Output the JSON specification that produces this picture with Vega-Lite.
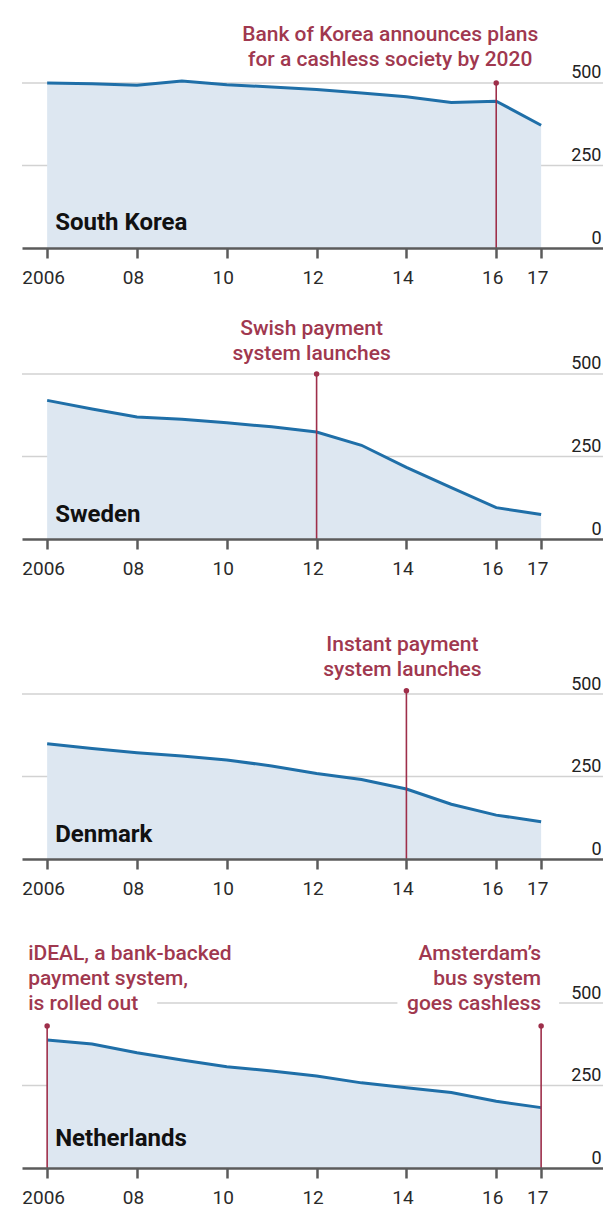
{
  "$schema": "https://vega.github.io/schema/vega-lite/v6.json",
  "padding": {"left": 21, "top": 0, "right": 0, "bottom": 0},
  "background": "white",
  "bounds": "flush",
  "spacing": 0,
  "config": {"view": {"stroke": null}, "font": "Roboto"},
  "resolve": {"scale": {"y": "independent"}},
  "datasets": {
    "cash": [
      {"country": "South Korea", "year": 2006, "value": 500},
      {"country": "South Korea", "year": 2007, "value": 498},
      {"country": "South Korea", "year": 2008, "value": 493},
      {"country": "South Korea", "year": 2009, "value": 506},
      {"country": "South Korea", "year": 2010, "value": 495},
      {"country": "South Korea", "year": 2011, "value": 488},
      {"country": "South Korea", "year": 2012, "value": 480},
      {"country": "South Korea", "year": 2013, "value": 470},
      {"country": "South Korea", "year": 2014, "value": 458},
      {"country": "South Korea", "year": 2015, "value": 441},
      {"country": "South Korea", "year": 2016, "value": 445},
      {"country": "South Korea", "year": 2017, "value": 372},
      {"country": "Sweden", "year": 2006, "value": 420},
      {"country": "Sweden", "year": 2007, "value": 394},
      {"country": "Sweden", "year": 2008, "value": 370},
      {"country": "Sweden", "year": 2009, "value": 363},
      {"country": "Sweden", "year": 2010, "value": 352},
      {"country": "Sweden", "year": 2011, "value": 340},
      {"country": "Sweden", "year": 2012, "value": 324},
      {"country": "Sweden", "year": 2013, "value": 284},
      {"country": "Sweden", "year": 2014, "value": 217},
      {"country": "Sweden", "year": 2015, "value": 156},
      {"country": "Sweden", "year": 2016, "value": 95},
      {"country": "Sweden", "year": 2017, "value": 74},
      {"country": "Denmark", "year": 2006, "value": 349},
      {"country": "Denmark", "year": 2007, "value": 335},
      {"country": "Denmark", "year": 2008, "value": 322},
      {"country": "Denmark", "year": 2009, "value": 312},
      {"country": "Denmark", "year": 2010, "value": 300},
      {"country": "Denmark", "year": 2011, "value": 282},
      {"country": "Denmark", "year": 2012, "value": 259},
      {"country": "Denmark", "year": 2013, "value": 241},
      {"country": "Denmark", "year": 2014, "value": 212},
      {"country": "Denmark", "year": 2015, "value": 166},
      {"country": "Denmark", "year": 2016, "value": 133},
      {"country": "Denmark", "year": 2017, "value": 113},
      {"country": "Netherlands", "year": 2006, "value": 388},
      {"country": "Netherlands", "year": 2007, "value": 376},
      {"country": "Netherlands", "year": 2008, "value": 349},
      {"country": "Netherlands", "year": 2009, "value": 327},
      {"country": "Netherlands", "year": 2010, "value": 307},
      {"country": "Netherlands", "year": 2011, "value": 294},
      {"country": "Netherlands", "year": 2012, "value": 279},
      {"country": "Netherlands", "year": 2013, "value": 258},
      {"country": "Netherlands", "year": 2014, "value": 243},
      {"country": "Netherlands", "year": 2015, "value": 229},
      {"country": "Netherlands", "year": 2016, "value": 202},
      {"country": "Netherlands", "year": 2017, "value": 183}
    ],
    "events": [
      {"country": "South Korea", "year": 2016, "top": 500, "text": "Bank of Korea announces plans\nfor a cashless society by 2020"},
      {"country": "Sweden", "year": 2012, "top": 500, "text": "Swish payment\nsystem launches"},
      {"country": "Denmark", "year": 2014, "top": 510, "text": "Instant payment\nsystem launches"},
      {"country": "Netherlands", "year": 2006, "top": 430, "text": "iDEAL, a bank-backed\npayment system,\nis rolled out"},
      {"country": "Netherlands", "year": 2017, "top": 430, "text": "Amsterdam’s\nbus system\ngoes cashless"}
    ]
  },
  "vconcat": [
    {
      "width": 582, "height": 248,
      "layer": [
        {"data": {"values": [{"g": 250}, {"g": 500}]},
         "mark": {"type": "rule", "color": "#d2d2d2", "strokeWidth": 1.5},
         "encoding": {"y": {"field": "g", "type": "quantitative", "title": null,
           "scale": {"domain": [0, 751.5], "nice": false, "zero": false},
           "axis": {"orient": "right", "values": [0, 250, 500], "grid": false, "domain": false, "ticks": false, "tickSize": 0, "labelAlign": "right", "labelBaseline": "alphabetic", "labelPadding": -3, "labelOffset": -5, "labelFontSize": 18, "labelColor": "#222222", "labelFlush": false, "zindex": 1}}}},
        {"data": {"name": "cash"}, "transform": [{"filter": "datum.country === 'South Korea'"}],
         "mark": {"type": "area", "color": "#dde7f1"},
         "encoding": {"x": {"field": "year", "type": "quantitative", "title": null,
           "scale": {"domain": [2005.44, 2018.4], "nice": false, "zero": false},
           "axis": {"values": [2006, 2008, 2010, 2012, 2014, 2016, 2017], "labelExpr": "datum.value == 2006 ? '2006' : slice(toString(datum.value), 2)", "grid": false, "domainColor": "#5b5b5b", "domainWidth": 2.5, "tickColor": "#5b5b5b", "tickWidth": 2.5, "tickSize": 10, "labelPadding": 10, "labelFontSize": 19, "labelColor": "#2a2a2a", "labelOffset": -4, "labelBaseline": "top", "labelFlush": false, "labelOverlap": false, "zindex": 1}},
           "y": {"field": "value", "type": "quantitative", "title": null}}},
        {"data": {"name": "cash"}, "transform": [{"filter": "datum.country === 'South Korea'"}],
         "mark": {"type": "line", "color": "#1f6fa8", "strokeWidth": 3},
         "encoding": {"x": {"field": "year", "type": "quantitative", "title": null}, "y": {"field": "value", "type": "quantitative", "title": null}}},
        {"data": {"name": "events"}, "transform": [{"filter": "datum.country === 'South Korea'"}],
         "mark": {"type": "rule", "color": "#9e2f4a", "strokeWidth": 1.6},
         "encoding": {"x": {"field": "year", "type": "quantitative", "title": null}, "y": {"field": "top", "type": "quantitative", "title": null}, "y2": {"datum": 0}}},
        {"data": {"name": "events"}, "transform": [{"filter": "datum.country === 'South Korea'"}],
         "mark": {"type": "circle", "color": "#9e2f4a", "size": 30, "opacity": 1},
         "encoding": {"x": {"field": "year", "type": "quantitative", "title": null}, "y": {"field": "top", "type": "quantitative", "title": null}}},
        {"data": {"name": "events"}, "transform": [{"filter": "datum.country === 'South Korea'"}],
         "mark": {"type": "text", "align": "center", "baseline": "alphabetic", "lineBreak": "\n", "lineHeight": 25, "dx": -106, "dy": -42, "fontSize": 21, "fontWeight": 500, "color": "#a0384f"},
         "encoding": {"x": {"field": "year", "type": "quantitative", "title": null}, "y": {"datum": 500, "type": "quantitative"}, "text": {"field": "text", "type": "nominal"}}},
        {"data": {"values": [{"name": "South Korea", "year": 2006, "v": 0}]},
         "mark": {"type": "text", "align": "left", "baseline": "alphabetic", "dx": 8, "dy": -18, "fontSize": 24, "fontWeight": "bold", "color": "#111111"},
         "encoding": {"x": {"field": "year", "type": "quantitative", "title": null}, "y": {"field": "v", "type": "quantitative", "title": null}, "text": {"field": "name", "type": "nominal"}}}
      ]
    },
    {
      "width": 582, "height": 291,
      "layer": [
        {"data": {"values": [{"g": 250}, {"g": 500}]},
         "mark": {"type": "rule", "color": "#d2d2d2", "strokeWidth": 1.5},
         "encoding": {"y": {"field": "g", "type": "quantitative", "title": null,
           "scale": {"domain": [0, 881.8], "nice": false, "zero": false},
           "axis": {"orient": "right", "values": [0, 250, 500], "grid": false, "domain": false, "ticks": false, "tickSize": 0, "labelAlign": "right", "labelBaseline": "alphabetic", "labelPadding": -3, "labelOffset": -5, "labelFontSize": 18, "labelColor": "#222222", "labelFlush": false, "zindex": 1}}}},
        {"data": {"name": "cash"}, "transform": [{"filter": "datum.country === 'Sweden'"}],
         "mark": {"type": "area", "color": "#dde7f1"},
         "encoding": {"x": {"field": "year", "type": "quantitative", "title": null,
           "scale": {"domain": [2005.44, 2018.4], "nice": false, "zero": false},
           "axis": {"values": [2006, 2008, 2010, 2012, 2014, 2016, 2017], "labelExpr": "datum.value == 2006 ? '2006' : slice(toString(datum.value), 2)", "grid": false, "domainColor": "#5b5b5b", "domainWidth": 2.5, "tickColor": "#5b5b5b", "tickWidth": 2.5, "tickSize": 10, "labelPadding": 10, "labelFontSize": 19, "labelColor": "#2a2a2a", "labelOffset": -4, "labelBaseline": "top", "labelFlush": false, "labelOverlap": false, "zindex": 1}},
           "y": {"field": "value", "type": "quantitative", "title": null}}},
        {"data": {"name": "cash"}, "transform": [{"filter": "datum.country === 'Sweden'"}],
         "mark": {"type": "line", "color": "#1f6fa8", "strokeWidth": 3},
         "encoding": {"x": {"field": "year", "type": "quantitative", "title": null}, "y": {"field": "value", "type": "quantitative", "title": null}}},
        {"data": {"name": "events"}, "transform": [{"filter": "datum.country === 'Sweden'"}],
         "mark": {"type": "rule", "color": "#9e2f4a", "strokeWidth": 1.6},
         "encoding": {"x": {"field": "year", "type": "quantitative", "title": null}, "y": {"field": "top", "type": "quantitative", "title": null}, "y2": {"datum": 0}}},
        {"data": {"name": "events"}, "transform": [{"filter": "datum.country === 'Sweden'"}],
         "mark": {"type": "circle", "color": "#9e2f4a", "size": 30, "opacity": 1},
         "encoding": {"x": {"field": "year", "type": "quantitative", "title": null}, "y": {"field": "top", "type": "quantitative", "title": null}}},
        {"data": {"name": "events"}, "transform": [{"filter": "datum.country === 'Sweden'"}],
         "mark": {"type": "text", "align": "center", "baseline": "alphabetic", "lineBreak": "\n", "lineHeight": 25, "dx": -5, "dy": -39, "fontSize": 21, "fontWeight": 500, "color": "#a0384f"},
         "encoding": {"x": {"field": "year", "type": "quantitative", "title": null}, "y": {"datum": 500, "type": "quantitative"}, "text": {"field": "text", "type": "nominal"}}},
        {"data": {"values": [{"name": "Sweden", "year": 2006, "v": 0}]},
         "mark": {"type": "text", "align": "left", "baseline": "alphabetic", "dx": 8, "dy": -17, "fontSize": 24, "fontWeight": "bold", "color": "#111111"},
         "encoding": {"x": {"field": "year", "type": "quantitative", "title": null}, "y": {"field": "v", "type": "quantitative", "title": null}, "text": {"field": "name", "type": "nominal"}}}
      ]
    },
    {
      "width": 582, "height": 320,
      "layer": [
        {"data": {"values": [{"g": 250}, {"g": 500}]},
         "mark": {"type": "rule", "color": "#d2d2d2", "strokeWidth": 1.5},
         "encoding": {"y": {"field": "g", "type": "quantitative", "title": null,
           "scale": {"domain": [0, 969.7], "nice": false, "zero": false},
           "axis": {"orient": "right", "values": [0, 250, 500], "grid": false, "domain": false, "ticks": false, "tickSize": 0, "labelAlign": "right", "labelBaseline": "alphabetic", "labelPadding": -3, "labelOffset": -5, "labelFontSize": 18, "labelColor": "#222222", "labelFlush": false, "zindex": 1}}}},
        {"data": {"name": "cash"}, "transform": [{"filter": "datum.country === 'Denmark'"}],
         "mark": {"type": "area", "color": "#dde7f1"},
         "encoding": {"x": {"field": "year", "type": "quantitative", "title": null,
           "scale": {"domain": [2005.44, 2018.4], "nice": false, "zero": false},
           "axis": {"values": [2006, 2008, 2010, 2012, 2014, 2016, 2017], "labelExpr": "datum.value == 2006 ? '2006' : slice(toString(datum.value), 2)", "grid": false, "domainColor": "#5b5b5b", "domainWidth": 2.5, "tickColor": "#5b5b5b", "tickWidth": 2.5, "tickSize": 10, "labelPadding": 10, "labelFontSize": 19, "labelColor": "#2a2a2a", "labelOffset": -4, "labelBaseline": "top", "labelFlush": false, "labelOverlap": false, "zindex": 1}},
           "y": {"field": "value", "type": "quantitative", "title": null}}},
        {"data": {"name": "cash"}, "transform": [{"filter": "datum.country === 'Denmark'"}],
         "mark": {"type": "line", "color": "#1f6fa8", "strokeWidth": 3},
         "encoding": {"x": {"field": "year", "type": "quantitative", "title": null}, "y": {"field": "value", "type": "quantitative", "title": null}}},
        {"data": {"name": "events"}, "transform": [{"filter": "datum.country === 'Denmark'"}],
         "mark": {"type": "rule", "color": "#9e2f4a", "strokeWidth": 1.6},
         "encoding": {"x": {"field": "year", "type": "quantitative", "title": null}, "y": {"field": "top", "type": "quantitative", "title": null}, "y2": {"datum": 0}}},
        {"data": {"name": "events"}, "transform": [{"filter": "datum.country === 'Denmark'"}],
         "mark": {"type": "circle", "color": "#9e2f4a", "size": 30, "opacity": 1},
         "encoding": {"x": {"field": "year", "type": "quantitative", "title": null}, "y": {"field": "top", "type": "quantitative", "title": null}}},
        {"data": {"name": "events"}, "transform": [{"filter": "datum.country === 'Denmark'"}],
         "mark": {"type": "text", "align": "center", "baseline": "alphabetic", "lineBreak": "\n", "lineHeight": 25, "dx": -4, "dy": -43, "fontSize": 21, "fontWeight": 500, "color": "#a0384f"},
         "encoding": {"x": {"field": "year", "type": "quantitative", "title": null}, "y": {"datum": 500, "type": "quantitative"}, "text": {"field": "text", "type": "nominal"}}},
        {"data": {"values": [{"name": "Denmark", "year": 2006, "v": 0}]},
         "mark": {"type": "text", "align": "left", "baseline": "alphabetic", "dx": 8, "dy": -17, "fontSize": 24, "fontWeight": "bold", "color": "#111111"},
         "encoding": {"x": {"field": "year", "type": "quantitative", "title": null}, "y": {"field": "v", "type": "quantitative", "title": null}, "text": {"field": "name", "type": "nominal"}}}
      ]
    },
    {
      "width": 582, "height": 309,
      "layer": [
        {"data": {"values": [{"g": 250}]},
         "mark": {"type": "rule", "color": "#d2d2d2", "strokeWidth": 1.5},
         "encoding": {"y": {"field": "g", "type": "quantitative", "title": null,
           "scale": {"domain": [0, 936.4], "nice": false, "zero": false},
           "axis": {"orient": "right", "values": [0, 250, 500], "grid": false, "domain": false, "ticks": false, "tickSize": 0, "labelAlign": "right", "labelBaseline": "alphabetic", "labelPadding": -3, "labelOffset": -5, "labelFontSize": 18, "labelColor": "#222222", "labelFlush": false, "zindex": 1}}}},
        {"data": {"values": [{"g": 500, "a": 2008.45, "b": 2013.8}, {"g": 500, "a": 2017.4, "b": 2018.4}]},
         "mark": {"type": "rule", "color": "#d2d2d2", "strokeWidth": 1.5},
         "encoding": {"x": {"field": "a", "type": "quantitative", "title": null}, "x2": {"field": "b"}, "y": {"field": "g", "type": "quantitative", "title": null}}},
        {"data": {"name": "cash"}, "transform": [{"filter": "datum.country === 'Netherlands'"}],
         "mark": {"type": "area", "color": "#dde7f1"},
         "encoding": {"x": {"field": "year", "type": "quantitative", "title": null,
           "scale": {"domain": [2005.44, 2018.4], "nice": false, "zero": false},
           "axis": {"values": [2006, 2008, 2010, 2012, 2014, 2016, 2017], "labelExpr": "datum.value == 2006 ? '2006' : slice(toString(datum.value), 2)", "grid": false, "domainColor": "#5b5b5b", "domainWidth": 2.5, "tickColor": "#5b5b5b", "tickWidth": 2.5, "tickSize": 10, "labelPadding": 10, "labelFontSize": 19, "labelColor": "#2a2a2a", "labelOffset": -4, "labelBaseline": "top", "labelFlush": false, "labelOverlap": false, "zindex": 1}},
           "y": {"field": "value", "type": "quantitative", "title": null}}},
        {"data": {"name": "cash"}, "transform": [{"filter": "datum.country === 'Netherlands'"}],
         "mark": {"type": "line", "color": "#1f6fa8", "strokeWidth": 3},
         "encoding": {"x": {"field": "year", "type": "quantitative", "title": null}, "y": {"field": "value", "type": "quantitative", "title": null}}},
        {"data": {"name": "events"}, "transform": [{"filter": "datum.country === 'Netherlands'"}],
         "mark": {"type": "rule", "color": "#9e2f4a", "strokeWidth": 1.6},
         "encoding": {"x": {"field": "year", "type": "quantitative", "title": null}, "y": {"field": "top", "type": "quantitative", "title": null}, "y2": {"datum": 0}}},
        {"data": {"name": "events"}, "transform": [{"filter": "datum.country === 'Netherlands'"}],
         "mark": {"type": "circle", "color": "#9e2f4a", "size": 30, "opacity": 1},
         "encoding": {"x": {"field": "year", "type": "quantitative", "title": null}, "y": {"field": "top", "type": "quantitative", "title": null}}},
        {"data": {"name": "events"}, "transform": [{"filter": "datum.country === 'Netherlands' && datum.year === 2006"}],
         "mark": {"type": "text", "align": "left", "baseline": "alphabetic", "lineBreak": "\n", "lineHeight": 25, "dx": -19, "dy": -43, "fontSize": 21, "fontWeight": 500, "color": "#a0384f"},
         "encoding": {"x": {"field": "year", "type": "quantitative", "title": null}, "y": {"datum": 500, "type": "quantitative"}, "text": {"field": "text", "type": "nominal"}}},
        {"data": {"name": "events"}, "transform": [{"filter": "datum.country === 'Netherlands' && datum.year === 2017"}],
         "mark": {"type": "text", "align": "right", "baseline": "alphabetic", "lineBreak": "\n", "lineHeight": 25, "dx": 0, "dy": -43, "fontSize": 21, "fontWeight": 500, "color": "#a0384f"},
         "encoding": {"x": {"field": "year", "type": "quantitative", "title": null}, "y": {"datum": 500, "type": "quantitative"}, "text": {"field": "text", "type": "nominal"}}},
        {"data": {"values": [{"name": "Netherlands", "year": 2006, "v": 0}]},
         "mark": {"type": "text", "align": "left", "baseline": "alphabetic", "dx": 8, "dy": -22, "fontSize": 24, "fontWeight": "bold", "color": "#111111"},
         "encoding": {"x": {"field": "year", "type": "quantitative", "title": null}, "y": {"field": "v", "type": "quantitative", "title": null}, "text": {"field": "name", "type": "nominal"}}}
      ]
    }
  ]
}
